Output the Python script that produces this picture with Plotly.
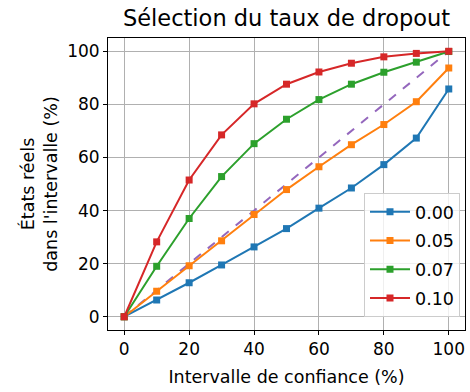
import plotly.graph_objects as go

# Confidence interval levels (%)
intervalle = [0, 10, 20, 30, 40, 50, 60, 70, 80, 90, 100]

# Share of true states inside the interval (%) for each dropout rate
taux_000 = [0, 6.3, 12.8, 19.5, 26.3, 33.2, 40.9, 48.5, 57.3, 67.3, 85.8]
taux_005 = [0, 9.6, 19.2, 28.6, 38.5, 47.9, 56.5, 64.8, 72.4, 81.0, 93.7]
taux_007 = [0, 19.0, 37.0, 52.8, 65.2, 74.4, 81.8, 87.6, 92.1, 95.9, 99.9]
taux_010 = [0, 28.2, 51.5, 68.5, 80.2, 87.6, 92.2, 95.5, 97.9, 99.2, 100]

series = [
    ("0.00", taux_000, "#1f77b4"),
    ("0.05", taux_005, "#ff7f0e"),
    ("0.07", taux_007, "#2ca02c"),
    ("0.10", taux_010, "#d62728"),
]

fig = go.Figure()

# Ideal calibration diagonal
fig.add_trace(go.Scatter(
    x=[0, 100], y=[0, 100], mode="lines",
    line=dict(color="#9467bd", width=2, dash="dash"),
    showlegend=False, hoverinfo="skip",
))

for name, vals, color in series:
    fig.add_trace(go.Scatter(
        x=intervalle, y=vals, mode="lines+markers", name=name,
        legendgroup=name,
        line=dict(color=color, width=2),
        marker=dict(symbol="square", size=7, color=color),
    ))

font = "DejaVu Sans, sans-serif"
axis_common = dict(
    range=[-5, 105], dtick=20, tick0=0,
    showgrid=True, gridcolor="#b0b0b0", gridwidth=1,
    showline=True, linecolor="black", linewidth=1, mirror=True,
    ticks="outside", ticklen=4, tickcolor="black",
    tickfont=dict(size=17, color="black", family=font),
    zeroline=False,
)

fig.update_layout(
    width=470, height=392,
    margin=dict(l=108, r=5, t=38, b=62),
    paper_bgcolor="white", plot_bgcolor="white",
    font=dict(family=font, color="black"),
    title=dict(text="Sélection du taux de dropout", x=0.5, xref="paper",
               y=0.955, yref="container", yanchor="middle",
               font=dict(size=22.5, family=font, color="black")),
    xaxis=dict(**axis_common,
               title=dict(text="Intervalle de confiance (%)", standoff=12,
                          font=dict(size=17.5, family=font))),
    yaxis=dict(**axis_common,
               title=dict(text="États réels<br>dans l'intervalle (%)", standoff=5,
                          font=dict(size=17.5, family=font))),
    legend=dict(
        x=0.986, y=0.045, xanchor="right", yanchor="bottom",
        bgcolor="rgba(255,255,255,0.8)", bordercolor="#cccccc", borderwidth=1,
        font=dict(size=17.5, family=font, color="black"),
        itemwidth=40, tracegroupgap=3,
    ),
)

fig.write_html("out.html")
